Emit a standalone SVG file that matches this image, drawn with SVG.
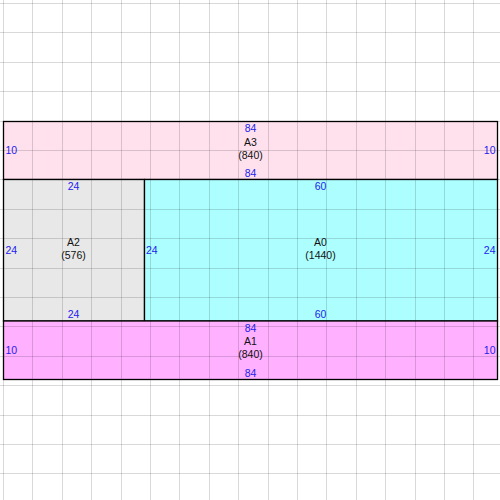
<svg xmlns="http://www.w3.org/2000/svg" width="500" height="500" viewBox="0 0 500 500">
<style>
text{font-family:"Liberation Sans",Arial,sans-serif;font-size:10.5px}
.d{fill:#2222ee}
.n{fill:#111}
.m{text-anchor:middle}
.e{text-anchor:end}
.box{stroke:#000;stroke-width:1.3}
.grid{stroke:#000;stroke-opacity:0.15;stroke-width:1;fill:none}
</style>
<rect width="500" height="500" fill="#fff"/>
<g id="A3">
<rect class="box" x="3.5" y="121.5" width="494" height="58" fill="#ffe1ee"/>
</g>
<g id="A2">
<rect class="box" x="3.5" y="179.5" width="141" height="141.5" fill="#e8e8e8"/>
</g>
<g id="A0">
<rect class="box" x="144.5" y="179.5" width="353" height="141.5" fill="#adffff"/>
</g>
<g id="A1">
<rect class="box" x="3.5" y="321" width="494" height="58.5" fill="#ffb0ff"/>
</g>
<g id="grid" class="grid">
<path d="M3.5 0V500M32.5 0V500M62.5 0V500M91.5 0V500M121.5 0V500M150.5 0V500M179.5 0V500M209.5 0V500M238.5 0V500M268.5 0V500M297.5 0V500M326.5 0V500M356.5 0V500M385.5 0V500M415.5 0V500M444.5 0V500M473.5 0V500"/>
<path d="M0 3.5H500M0 32.5H500M0 62.5H500M0 91.5H500M0 121.5H500M0 150.5H500M0 179.5H500M0 209.5H500M0 238.5H500M0 268.5H500M0 297.5H500M0 326.5H500M0 356.5H500M0 385.5H500M0 415.5H500M0 444.5H500M0 473.5H500"/>
</g>
<g id="labels">
<text class="d m" x="250.5" y="132">84</text>
<text class="n m" x="250.5" y="145.5">A3</text>
<text class="n m" x="250.5" y="158.5">(840)</text>
<text class="d m" x="250.5" y="176.5">84</text>
<text class="d" x="5.5" y="154">10</text>
<text class="d e" x="495.5" y="154">10</text>

<text class="d m" x="73.5" y="190">24</text>
<text class="n m" x="73.5" y="246">A2</text>
<text class="n m" x="73.5" y="258.5">(576)</text>
<text class="d m" x="73.5" y="318">24</text>
<text class="d" x="5.5" y="254">24</text>

<text class="d m" x="320.5" y="190">60</text>
<text class="n m" x="320.5" y="246">A0</text>
<text class="n m" x="320.5" y="258.5">(1440)</text>
<text class="d m" x="320.5" y="318">60</text>
<text class="d" x="146" y="254">24</text>
<text class="d e" x="495.5" y="254">24</text>

<text class="d m" x="250.5" y="331.5">84</text>
<text class="n m" x="250.5" y="344.5">A1</text>
<text class="n m" x="250.5" y="358">(840)</text>
<text class="d m" x="250.5" y="376.5">84</text>
<text class="d" x="5.5" y="354">10</text>
<text class="d e" x="495.5" y="354">10</text>
</g>
</svg>
